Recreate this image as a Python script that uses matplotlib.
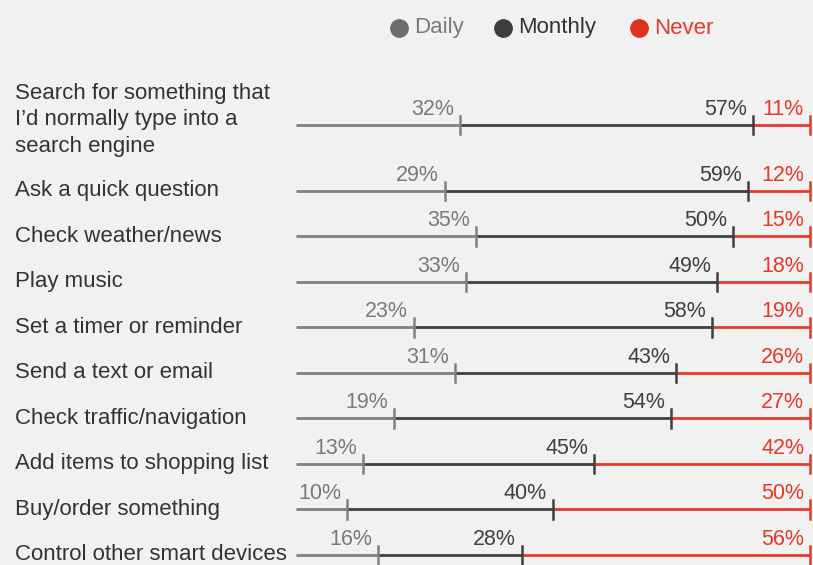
import matplotlib
matplotlib.use("Agg")
import matplotlib.pyplot as plt

categories = [
    "Search for something that\nI\u2019d normally type into a\nsearch engine",
    "Ask a quick question",
    "Check weather/news",
    "Play music",
    "Set a timer or reminder",
    "Send a text or email",
    "Check traffic/navigation",
    "Add items to shopping list",
    "Buy/order something",
    "Control other smart devices",
]
daily = [32, 29, 35, 33, 23, 31, 19, 13, 10, 16]
monthly = [57, 59, 50, 49, 58, 43, 54, 45, 40, 28]
never = [11, 12, 15, 18, 19, 26, 27, 42, 50, 56]
series_names = ["Daily", "Monthly", "Never"]

plt.rcParams['font.family'] = ['Liberation Sans', 'DejaVu Sans']

bg = "#f1f1f1"
c_line = ["#808080", "#3f3f3f", "#e4392b"]
c_text = ["#7a7a7a", "#404040", "#e4392b"]
c_leg = ["#6c6d70", "#3d3d3d", "#e03020"]

W, H = 813, 565
fig = plt.figure(figsize=(W / 100, H / 100), dpi=100, facecolor=bg)

x0, x1 = 296, 810
row0_px = 125
row_step = 45.5
ax = fig.add_axes([x0 / W, 0, (x1 - x0) / W, 1])
ax.set_facecolor(bg)
ax.set_xlim(0, 100)
ax.set_ylim((H - row0_px) / row_step, -row0_px / row_step)
ax.axis("off")

# row positions: first row (3-line label) gets extra space
ypos = [0] + [1.45 + i for i in range(len(categories) - 1)]

fs = 16
pfs = 15.5
tick_h = 0.2
for i, cat in enumerate(categories):
    y = ypos[i]
    d = daily[i]
    m = d + monthly[i]
    n = m + never[i]
    ax.plot([0, d], [y, y], color=c_line[0], lw=2.0, solid_capstyle="butt", clip_on=False)
    ax.plot([d, m], [y, y], color=c_line[1], lw=2.0, solid_capstyle="butt", clip_on=False)
    ax.plot([m, n], [y, y], color=c_line[2], lw=2.0, solid_capstyle="butt", clip_on=False)
    ax.plot([d, d], [y - tick_h, y + tick_h], color=c_line[0], lw=1.8, clip_on=False)
    ax.plot([m, m], [y - tick_h, y + tick_h], color=c_line[1], lw=1.8, clip_on=False)
    ax.plot([n, n], [y - tick_h, y + tick_h], color=c_line[2], lw=1.8, clip_on=False)
    for val, xp, col in [(daily[i], d, c_text[0]), (monthly[i], m, c_text[1]), (never[i], n, c_text[2])]:
        ax.annotate(f"{val}%", xy=(xp, y), xytext=(-6, 10), textcoords="offset pixels",
                    ha="right", va="baseline", fontsize=pfs, color=col, annotation_clip=False)
    fig.text(15 / W, 1 - (row0_px + y * row_step) / H + (0.009 if i == 0 else 0), cat,
             ha="left", va="center", fontsize=fs, color="#333333", linespacing=1.35)

# legend
leg_y = -(row0_px - 28) / row_step
leg_marker_px = [399, 503, 639]
for name, mx, col, tc in zip(series_names, leg_marker_px, c_leg, c_text):
    xd = (mx - x0) / (x1 - x0) * 100
    ax.plot([xd], [leg_y], "o", ms=12.5, color=col, clip_on=False)
    ax.text(xd + 15 / (x1 - x0) * 100, leg_y, name, ha="left", va="center",
            fontsize=fs, color=tc if name != "Monthly" else "#333333")

fig.savefig("out.png", dpi=100, facecolor=bg)
